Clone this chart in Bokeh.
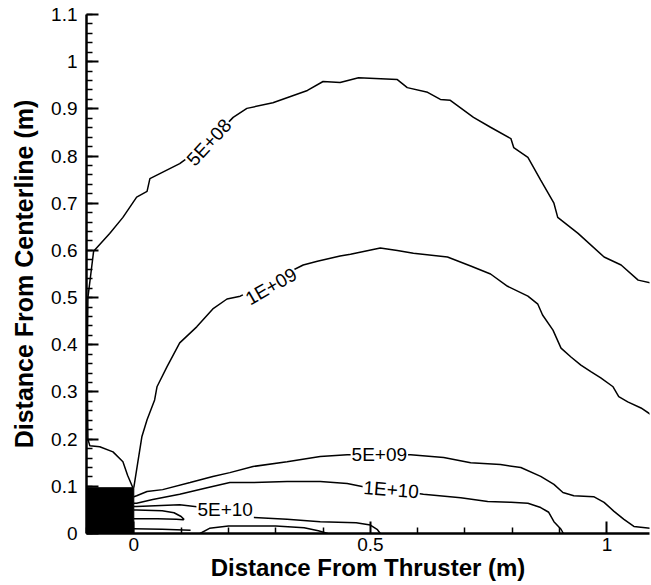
from bokeh.plotting import figure
from bokeh.models import FixedTicker, Range1d, ColumnDataSource
from bokeh.core.properties import value
from bokeh.embed import file_html
from bokeh.resources import INLINE

# ---- data ----
x_ticks_major = [0.0, 0.5, 1.0]
x_tick_labels = ["0", "0.5", "1"]
x_ticks_minor = [-0.1, 0.1, 0.2, 0.3, 0.4, 0.6, 0.7, 0.8, 0.9, 1.1]
y_ticks_major = [0.0, 0.1, 0.2, 0.3, 0.4, 0.5, 0.6, 0.7, 0.8, 0.9, 1.0, 1.1]
y_tick_labels = ["0", "0.1", "0.2", "0.3", "0.4", "0.5", "0.6", "0.7", "0.8", "0.9", "1", "1.1"]
y_ticks_minor = [round(i * 0.02, 2) for i in range(56)]

thruster_x = [-0.1, 0.0]
thruster_y = [0.0, 0.097]

c5e8_x = [-0.002, -0.013, -0.023, -0.044, -0.072, -0.093, -0.097, -0.098, -0.098, -0.097,
          -0.085, -0.051, -0.023, 0.006, 0.028, 0.034, 0.097, 0.16, 0.210, 0.239, 0.294,
          0.367, 0.400, 0.436, 0.475, 0.557, 0.578, 0.621, 0.648, 0.669, 0.718, 0.754,
          0.797, 0.803, 0.833, 0.860, 0.888, 0.896, 0.939, 0.994, 1.030, 1.066, 1.093]
c5e8_y = [0.097, 0.123, 0.152, 0.173, 0.184, 0.186, 0.20, 0.30, 0.40, 0.50,
          0.598, 0.636, 0.670, 0.713, 0.725, 0.752, 0.784, 0.83, 0.882, 0.901, 0.913,
          0.939, 0.958, 0.956, 0.966, 0.962, 0.945, 0.935, 0.920, 0.918, 0.882, 0.861,
          0.837, 0.818, 0.797, 0.749, 0.700, 0.670, 0.636, 0.586, 0.569, 0.537, 0.531]

c1e9_x = [0.0, 0.008, 0.017, 0.028, 0.044, 0.049, 0.070, 0.097, 0.133, 0.167, 0.197,
          0.225, 0.29, 0.358, 0.388, 0.436, 0.458, 0.521, 0.557, 0.591, 0.663, 0.712,
          0.754, 0.790, 0.833, 0.854, 0.864, 0.886, 0.903, 0.924, 0.945, 0.966, 0.987,
          1.013, 1.025, 1.044, 1.072, 1.093]
c1e9_y = [0.097, 0.148, 0.205, 0.241, 0.283, 0.311, 0.353, 0.404, 0.438, 0.476, 0.497,
          0.503, 0.535, 0.569, 0.577, 0.588, 0.592, 0.605, 0.600, 0.594, 0.586, 0.567,
          0.550, 0.524, 0.503, 0.486, 0.463, 0.431, 0.393, 0.374, 0.357, 0.343, 0.330,
          0.311, 0.290, 0.279, 0.266, 0.252]

c5e9_x = [0.0, 0.006, 0.028, 0.061, 0.119, 0.167, 0.203, 0.252, 0.324, 0.394, 0.451,
          0.519, 0.585, 0.655, 0.712, 0.775, 0.818, 0.860, 0.888, 0.907, 0.930, 0.972,
          0.994, 1.015, 1.036, 1.057, 1.093]
c5e9_y = [0.078, 0.080, 0.089, 0.093, 0.108, 0.121, 0.129, 0.142, 0.152, 0.163, 0.167,
          0.167, 0.167, 0.161, 0.150, 0.146, 0.140, 0.121, 0.104, 0.087, 0.080, 0.078,
          0.066, 0.047, 0.030, 0.015, 0.011]

c1e10_x = [0.0, 0.006, 0.040, 0.097, 0.155, 0.203, 0.252, 0.324, 0.394, 0.451, 0.485,
           0.544, 0.612, 0.691, 0.748, 0.797, 0.833, 0.860, 0.877, 0.888, 0.903, 0.908]
c1e10_y = [0.064, 0.064, 0.072, 0.083, 0.097, 0.108, 0.108, 0.110, 0.110, 0.106, 0.099,
           0.093, 0.083, 0.076, 0.068, 0.066, 0.064, 0.055, 0.045, 0.025, 0.009, 0.0]

c5e10_x = [0.0, 0.006, 0.097, 0.191, 0.252, 0.324, 0.394, 0.47, 0.50, 0.515, 0.521]
c5e10_y = [0.057, 0.057, 0.061, 0.05, 0.034, 0.030, 0.025, 0.023, 0.018, 0.008, 0.0]

cloop_x = [0.0, 0.006, 0.06, 0.085, 0.100, 0.106, 0.104, 0.09, 0.05, 0.006, 0.0]
cloop_y = [0.050, 0.050, 0.048, 0.044, 0.036, 0.030, 0.029, 0.030, 0.031, 0.031, 0.031]

carc_x = [0.14, 0.16, 0.2, 0.3, 0.36, 0.39, 0.41]
carc_y = [0.0, 0.011, 0.016, 0.016, 0.012, 0.006, 0.0]

cbase_x = [0.0, 0.06, 0.12]
cbase_y = [0.010, 0.009, 0.007]

label_text = ["5E+08", "1E+09", "5E+09", "1E+10", "5E+10"]
label_x = [0.159, 0.29, 0.519, 0.544, 0.193]
label_y = [0.829, 0.524, 0.167, 0.093, 0.051]
label_angle = [0.83, 0.52, 0.0, -0.08, 0.0]

# ---- figure ----
FONT = "Liberation Sans"
p = figure(width=651, height=585, x_range=Range1d(-0.1, 1.09), y_range=Range1d(0.0, 1.1),
           output_backend="svg", toolbar_location=None,
           min_border_left=86, min_border_right=2, min_border_top=14, min_border_bottom=52)
p.outline_line_color = None
p.grid.visible = False
p.background_fill_color = "white"

p.quad(left=[thruster_x[0]], right=[thruster_x[1]], bottom=[thruster_y[0]], top=[thruster_y[1]],
       fill_color="black", line_color="black")

for xs, ys in [(c5e8_x, c5e8_y), (c1e9_x, c1e9_y), (c5e9_x, c5e9_y), (c1e10_x, c1e10_y),
               (c5e10_x, c5e10_y), (cloop_x, cloop_y), (carc_x, carc_y), (cbase_x, cbase_y)]:
    p.line(xs, ys, line_color="black", line_width=1.5)

src = ColumnDataSource(dict(x=label_x, y=label_y, text=label_text, angle=label_angle))
p.text(x="x", y="y", text="text", angle="angle", source=src,
       text_font=value(FONT), text_font_size="19px", text_color="black",
       text_align="center", text_baseline="middle",
       background_fill_color="white", padding=1)

for ax in (p.xaxis[0], p.yaxis[0]):
    ax.axis_line_width = 2.5
    ax.axis_line_color = "black"
    ax.major_tick_in = 12
    ax.major_tick_out = 0
    ax.minor_tick_in = 6
    ax.minor_tick_out = 0
    ax.major_tick_line_width = 2
    ax.minor_tick_line_width = 1.5
    ax.major_tick_line_color = "black"
    ax.minor_tick_line_color = "black"
    ax.major_label_text_font = FONT
    ax.major_label_text_font_size = "19px"
    ax.major_label_text_color = "black"
    ax.axis_label_text_font = FONT
    ax.axis_label_text_font_style = "bold"
    ax.axis_label_text_color = "black"

p.xaxis.axis_label_text_font_size = "24px"
p.yaxis.axis_label_text_font_size = "25px"
p.xaxis.ticker = FixedTicker(ticks=x_ticks_major, minor_ticks=x_ticks_minor)
p.yaxis.ticker = FixedTicker(ticks=y_ticks_major, minor_ticks=y_ticks_minor)
p.xaxis.major_label_overrides = {t: l for t, l in zip(x_ticks_major, x_tick_labels)}
p.yaxis.major_label_overrides = {t: l for t, l in zip(y_ticks_major, y_tick_labels)}
p.xaxis.axis_label = "Distance From Thruster (m)"
p.yaxis.axis_label = "Distance From Centerline (m)"
p.xaxis.major_label_standoff = 4
p.yaxis.major_label_standoff = 9
p.xaxis.axis_label_standoff = 0
p.yaxis.axis_label_standoff = 10

open("out.html", "w").write(file_html(p, INLINE))
